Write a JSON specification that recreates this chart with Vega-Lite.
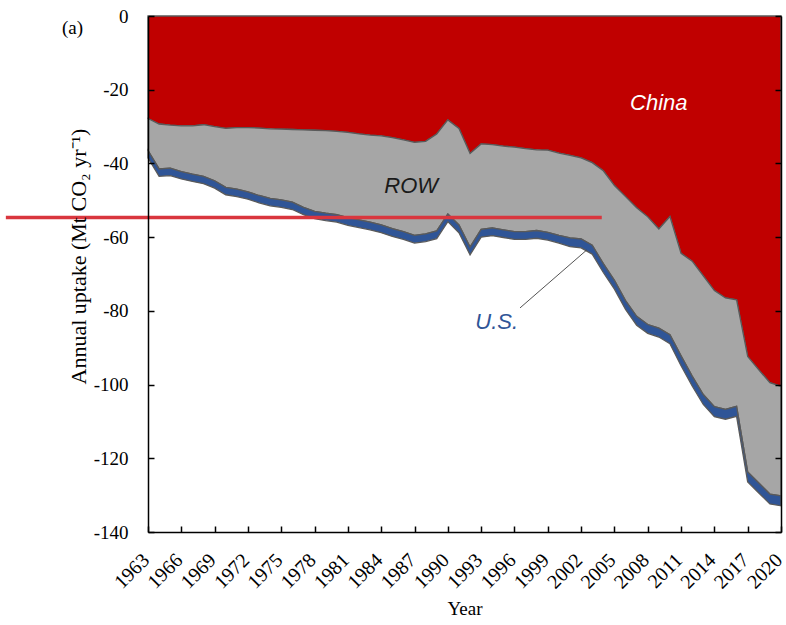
{
  "$schema": "https://vega.github.io/schema/vega-lite/v6.json",
  "width": 633,
  "height": 516,
  "autosize": {"type": "none"},
  "padding": {"left": 148, "top": 16, "right": 5, "bottom": 93},
  "background": "white",
  "title": {
    "text": "(a)",
    "anchor": "start",
    "frame": "group",
    "orient": "top",
    "offset": 0,
    "dx": -86,
    "dy": 40,
    "baseline": "middle",
    "font": "Liberation Serif",
    "fontSize": 19,
    "fontWeight": "normal",
    "color": "black"
  },
  "config": {
    "view": {"stroke": null},
    "axis": {"grid": false, "domainColor": "black", "tickColor": "black", "labelColor": "black", "titleColor": "black"}
  },
  "datasets": {
    "uptake": [
      {"year": 1963, "region": "China", "value": -27.8}, {"year": 1963, "region": "ROW", "value": -8.7}, {"year": 1963, "region": "U.S.", "value": -2.0},
      {"year": 1964, "region": "China", "value": -29.3}, {"year": 1964, "region": "ROW", "value": -12.2}, {"year": 1964, "region": "U.S.", "value": -2.0},
      {"year": 1965, "region": "China", "value": -29.6}, {"year": 1965, "region": "ROW", "value": -11.7}, {"year": 1965, "region": "U.S.", "value": -2.0},
      {"year": 1966, "region": "China", "value": -29.8}, {"year": 1966, "region": "ROW", "value": -12.4}, {"year": 1966, "region": "U.S.", "value": -2.0},
      {"year": 1967, "region": "China", "value": -29.8}, {"year": 1967, "region": "ROW", "value": -13.1}, {"year": 1967, "region": "U.S.", "value": -2.0},
      {"year": 1968, "region": "China", "value": -29.5}, {"year": 1968, "region": "ROW", "value": -14.0}, {"year": 1968, "region": "U.S.", "value": -2.0},
      {"year": 1969, "region": "China", "value": -30.0}, {"year": 1969, "region": "ROW", "value": -14.7}, {"year": 1969, "region": "U.S.", "value": -2.0},
      {"year": 1970, "region": "China", "value": -30.5}, {"year": 1970, "region": "ROW", "value": -16.0}, {"year": 1970, "region": "U.S.", "value": -2.0},
      {"year": 1971, "region": "China", "value": -30.3}, {"year": 1971, "region": "ROW", "value": -16.7}, {"year": 1971, "region": "U.S.", "value": -2.0},
      {"year": 1972, "region": "China", "value": -30.3}, {"year": 1972, "region": "ROW", "value": -17.4}, {"year": 1972, "region": "U.S.", "value": -2.0},
      {"year": 1973, "region": "China", "value": -30.4}, {"year": 1973, "region": "ROW", "value": -18.3}, {"year": 1973, "region": "U.S.", "value": -2.0},
      {"year": 1974, "region": "China", "value": -30.6}, {"year": 1974, "region": "ROW", "value": -18.9}, {"year": 1974, "region": "U.S.", "value": -2.0},
      {"year": 1975, "region": "China", "value": -30.7}, {"year": 1975, "region": "ROW", "value": -19.2}, {"year": 1975, "region": "U.S.", "value": -2.0},
      {"year": 1976, "region": "China", "value": -30.8}, {"year": 1976, "region": "ROW", "value": -19.7}, {"year": 1976, "region": "U.S.", "value": -2.0},
      {"year": 1977, "region": "China", "value": -30.9}, {"year": 1977, "region": "ROW", "value": -21.0}, {"year": 1977, "region": "U.S.", "value": -2.0},
      {"year": 1978, "region": "China", "value": -31.0}, {"year": 1978, "region": "ROW", "value": -22.0}, {"year": 1978, "region": "U.S.", "value": -2.0},
      {"year": 1979, "region": "China", "value": -31.1}, {"year": 1979, "region": "ROW", "value": -22.4}, {"year": 1979, "region": "U.S.", "value": -2.0},
      {"year": 1980, "region": "China", "value": -31.3}, {"year": 1980, "region": "ROW", "value": -22.6}, {"year": 1980, "region": "U.S.", "value": -2.0},
      {"year": 1981, "region": "China", "value": -31.6}, {"year": 1981, "region": "ROW", "value": -23.1}, {"year": 1981, "region": "U.S.", "value": -2.1},
      {"year": 1982, "region": "China", "value": -32.0}, {"year": 1982, "region": "ROW", "value": -23.3}, {"year": 1982, "region": "U.S.", "value": -2.1},
      {"year": 1983, "region": "China", "value": -32.3}, {"year": 1983, "region": "ROW", "value": -23.6}, {"year": 1983, "region": "U.S.", "value": -2.1},
      {"year": 1984, "region": "China", "value": -32.5}, {"year": 1984, "region": "ROW", "value": -24.2}, {"year": 1984, "region": "U.S.", "value": -2.1},
      {"year": 1985, "region": "China", "value": -33.0}, {"year": 1985, "region": "ROW", "value": -24.7}, {"year": 1985, "region": "U.S.", "value": -2.1},
      {"year": 1986, "region": "China", "value": -33.6}, {"year": 1986, "region": "ROW", "value": -24.9}, {"year": 1986, "region": "U.S.", "value": -2.1},
      {"year": 1987, "region": "China", "value": -34.3}, {"year": 1987, "region": "ROW", "value": -25.2}, {"year": 1987, "region": "U.S.", "value": -2.1},
      {"year": 1988, "region": "China", "value": -34.0}, {"year": 1988, "region": "ROW", "value": -25.1}, {"year": 1988, "region": "U.S.", "value": -2.1},
      {"year": 1989, "region": "China", "value": -32.0}, {"year": 1989, "region": "ROW", "value": -26.3}, {"year": 1989, "region": "U.S.", "value": -2.1},
      {"year": 1990, "region": "China", "value": -28.2}, {"year": 1990, "region": "ROW", "value": -25.5}, {"year": 1990, "region": "U.S.", "value": -2.1},
      {"year": 1991, "region": "China", "value": -30.5}, {"year": 1991, "region": "ROW", "value": -26.2}, {"year": 1991, "region": "U.S.", "value": -2.1},
      {"year": 1992, "region": "China", "value": -37.3}, {"year": 1992, "region": "ROW", "value": -25.4}, {"year": 1992, "region": "U.S.", "value": -2.1},
      {"year": 1993, "region": "China", "value": -34.7}, {"year": 1993, "region": "ROW", "value": -23.2}, {"year": 1993, "region": "U.S.", "value": -2.1},
      {"year": 1994, "region": "China", "value": -34.9}, {"year": 1994, "region": "ROW", "value": -22.6}, {"year": 1994, "region": "U.S.", "value": -2.1},
      {"year": 1995, "region": "China", "value": -35.3}, {"year": 1995, "region": "ROW", "value": -22.7}, {"year": 1995, "region": "U.S.", "value": -2.1},
      {"year": 1996, "region": "China", "value": -35.6}, {"year": 1996, "region": "ROW", "value": -22.9}, {"year": 1996, "region": "U.S.", "value": -2.1},
      {"year": 1997, "region": "China", "value": -36.0}, {"year": 1997, "region": "ROW", "value": -22.5}, {"year": 1997, "region": "U.S.", "value": -2.1},
      {"year": 1998, "region": "China", "value": -36.3}, {"year": 1998, "region": "ROW", "value": -21.9}, {"year": 1998, "region": "U.S.", "value": -2.1},
      {"year": 1999, "region": "China", "value": -36.4}, {"year": 1999, "region": "ROW", "value": -22.3}, {"year": 1999, "region": "U.S.", "value": -2.1},
      {"year": 2000, "region": "China", "value": -37.2}, {"year": 2000, "region": "ROW", "value": -22.3}, {"year": 2000, "region": "U.S.", "value": -2.1},
      {"year": 2001, "region": "China", "value": -37.8}, {"year": 2001, "region": "ROW", "value": -22.4}, {"year": 2001, "region": "U.S.", "value": -2.4},
      {"year": 2002, "region": "China", "value": -38.5}, {"year": 2002, "region": "ROW", "value": -22.0}, {"year": 2002, "region": "U.S.", "value": -2.4},
      {"year": 2003, "region": "China", "value": -39.8}, {"year": 2003, "region": "ROW", "value": -22.4}, {"year": 2003, "region": "U.S.", "value": -2.4},
      {"year": 2004, "region": "China", "value": -42.0}, {"year": 2004, "region": "ROW", "value": -25.2}, {"year": 2004, "region": "U.S.", "value": -2.4},
      {"year": 2005, "region": "China", "value": -46.0}, {"year": 2005, "region": "ROW", "value": -25.7}, {"year": 2005, "region": "U.S.", "value": -2.4},
      {"year": 2006, "region": "China", "value": -49.0}, {"year": 2006, "region": "ROW", "value": -28.2}, {"year": 2006, "region": "U.S.", "value": -2.4},
      {"year": 2007, "region": "China", "value": -52.0}, {"year": 2007, "region": "ROW", "value": -29.5}, {"year": 2007, "region": "U.S.", "value": -2.4},
      {"year": 2008, "region": "China", "value": -54.5}, {"year": 2008, "region": "ROW", "value": -29.2}, {"year": 2008, "region": "U.S.", "value": -2.4},
      {"year": 2009, "region": "China", "value": -57.8}, {"year": 2009, "region": "ROW", "value": -26.9}, {"year": 2009, "region": "U.S.", "value": -2.4},
      {"year": 2010, "region": "China", "value": -54.4}, {"year": 2010, "region": "ROW", "value": -32.1}, {"year": 2010, "region": "U.S.", "value": -2.4},
      {"year": 2011, "region": "China", "value": -64.4}, {"year": 2011, "region": "ROW", "value": -27.8}, {"year": 2011, "region": "U.S.", "value": -2.7},
      {"year": 2012, "region": "China", "value": -66.5}, {"year": 2012, "region": "ROW", "value": -31.2}, {"year": 2012, "region": "U.S.", "value": -2.7},
      {"year": 2013, "region": "China", "value": -70.5}, {"year": 2013, "region": "ROW", "value": -32.2}, {"year": 2013, "region": "U.S.", "value": -2.7},
      {"year": 2014, "region": "China", "value": -74.5}, {"year": 2014, "region": "ROW", "value": -31.5}, {"year": 2014, "region": "U.S.", "value": -2.7},
      {"year": 2015, "region": "China", "value": -76.5}, {"year": 2015, "region": "ROW", "value": -30.2}, {"year": 2015, "region": "U.S.", "value": -2.7},
      {"year": 2016, "region": "China", "value": -77.0}, {"year": 2016, "region": "ROW", "value": -28.9}, {"year": 2016, "region": "U.S.", "value": -2.7},
      {"year": 2017, "region": "China", "value": -92.4}, {"year": 2017, "region": "ROW", "value": -31.3}, {"year": 2017, "region": "U.S.", "value": -2.7},
      {"year": 2018, "region": "China", "value": -96.0}, {"year": 2018, "region": "ROW", "value": -30.7}, {"year": 2018, "region": "U.S.", "value": -2.7},
      {"year": 2019, "region": "China", "value": -99.5}, {"year": 2019, "region": "ROW", "value": -30.2}, {"year": 2019, "region": "U.S.", "value": -2.7},
      {"year": 2020, "region": "China", "value": -100.5}, {"year": 2020, "region": "ROW", "value": -29.7}, {"year": 2020, "region": "U.S.", "value": -2.7}
    ],
    "labels": [
      {"year": 2009.0, "value": -23.7, "label": "China", "tone": "white"},
      {"year": 1986.7, "value": -46.1, "label": "ROW", "tone": "#1a1a1a"},
      {"year": 1994.4, "value": -82.9, "label": "U.S.", "tone": "#2F5597"}
    ],
    "leader": [
      {"year": 1996.5, "value": -79.2, "year2": 2002.5, "value2": -63.5}
    ],
    "marker": [
      {"year": 1950.2, "year2": 2003.86, "value": -54.7}
    ]
  },
  "resolve": {"axis": {"x": "independent", "y": "independent"}},
  "layer": [
    {
      "data": {"name": "uptake"},
      "transform": [
        {"calculate": "indexof(['China', 'ROW', 'U.S.'], datum.region)", "as": "stackOrder"}
      ],
      "mark": {"type": "area", "stroke": "#5a5a5a", "strokeWidth": 1.3, "strokeJoin": "miter", "opacity": 1},
      "encoding": {
        "x": {
          "field": "year",
          "type": "quantitative",
          "scale": {"domain": [1963, 2020], "nice": false, "zero": false},
          "axis": {
            "values": [1963, 1966, 1969, 1972, 1975, 1978, 1981, 1984, 1987, 1990, 1993, 1996, 1999, 2002, 2005, 2008, 2011, 2014, 2017, 2020],
            "format": "d",
            "tickSize": -6,
            "tickWidth": 1.5,
            "domainWidth": 1.5,
            "labelAngle": -45,
            "labelAlign": "right",
            "labelBaseline": "alphabetic",
            "labelPadding": 35,
            "labelOffset": 2,
            "labelFont": "Liberation Serif",
            "labelFontSize": 20,
            "labelOverlap": false,
            "labelFlush": false,
            "labelBound": false,
            "title": "Year",
            "titleFont": "Liberation Serif",
            "titleFontSize": 19,
            "titleFontWeight": "normal",
            "titleY": 82,
            "titleBaseline": "alphabetic",
            "zindex": 1
          }
        },
        "y": {
          "field": "value",
          "type": "quantitative",
          "stack": "zero",
          "scale": {"domain": [-140, 0], "nice": false},
          "axis": {
            "orient": "left",
            "values": [0, -20, -40, -60, -80, -100, -120, -140],
            "labelExpr": "replace(datum.label, '−', '-')",
            "tickSize": -6,
            "tickWidth": 1.5,
            "domainWidth": 1.5,
            "labelPadding": 26,
            "labelFont": "Liberation Serif",
            "labelFontSize": 19,
            "title": "Annual uptake (Mt CO₂ yr⁻¹)",
            "titleFont": "Liberation Serif",
            "titleFontSize": 22,
            "titleFontWeight": "normal",
            "titleAngle": 270,
            "titleAlign": "center",
            "titleBaseline": "alphabetic",
            "titleX": -63,
            "titleY": 240,
            "zindex": 1
          }
        },
        "color": {
          "field": "region",
          "type": "nominal",
          "scale": {"domain": ["China", "ROW", "U.S."], "range": ["#C00000", "#A6A6A6", "#2F5597"]},
          "legend": null
        },
        "order": {"field": "stackOrder", "type": "quantitative"}
      }
    },
    {
      "data": {"name": "labels"},
      "mark": {"type": "text", "font": "Liberation Sans", "fontStyle": "italic", "fontSize": 22, "align": "center", "baseline": "middle"},
      "encoding": {
        "x": {"field": "year", "type": "quantitative", "scale": {"domain": [1963, 2020], "nice": false, "zero": false}, "axis": null},
        "y": {
          "field": "value",
          "type": "quantitative",
          "scale": {"domain": [-140, 0], "nice": false},
          "axis": {
            "orient": "right",
            "values": [0, -20, -40, -60, -80, -100, -120, -140],
            "labels": false,
            "tickSize": -6,
            "tickWidth": 1.5,
            "domainWidth": 1.5,
            "title": null,
            "zindex": 1
          }
        },
        "text": {"field": "label"},
        "color": {"field": "tone", "type": "nominal", "scale": null}
      }
    },
    {
      "data": {"name": "leader"},
      "mark": {"type": "rule", "color": "#404040", "strokeWidth": 0.9},
      "encoding": {
        "x": {"field": "year", "type": "quantitative", "scale": {"domain": [1963, 2020], "nice": false, "zero": false}, "axis": null},
        "x2": {"field": "year2"},
        "y": {"field": "value", "type": "quantitative", "scale": {"domain": [-140, 0], "nice": false}, "axis": null},
        "y2": {"field": "value2"}
      }
    },
    {
      "data": {"name": "marker"},
      "mark": {"type": "rule", "color": "#D9363E", "strokeWidth": 3.5, "clip": false},
      "encoding": {
        "x": {"field": "year", "type": "quantitative", "scale": {"domain": [1963, 2020], "nice": false, "zero": false}, "axis": null},
        "x2": {"field": "year2"},
        "y": {"field": "value", "type": "quantitative", "scale": {"domain": [-140, 0], "nice": false}, "axis": null}
      }
    }
  ]
}
